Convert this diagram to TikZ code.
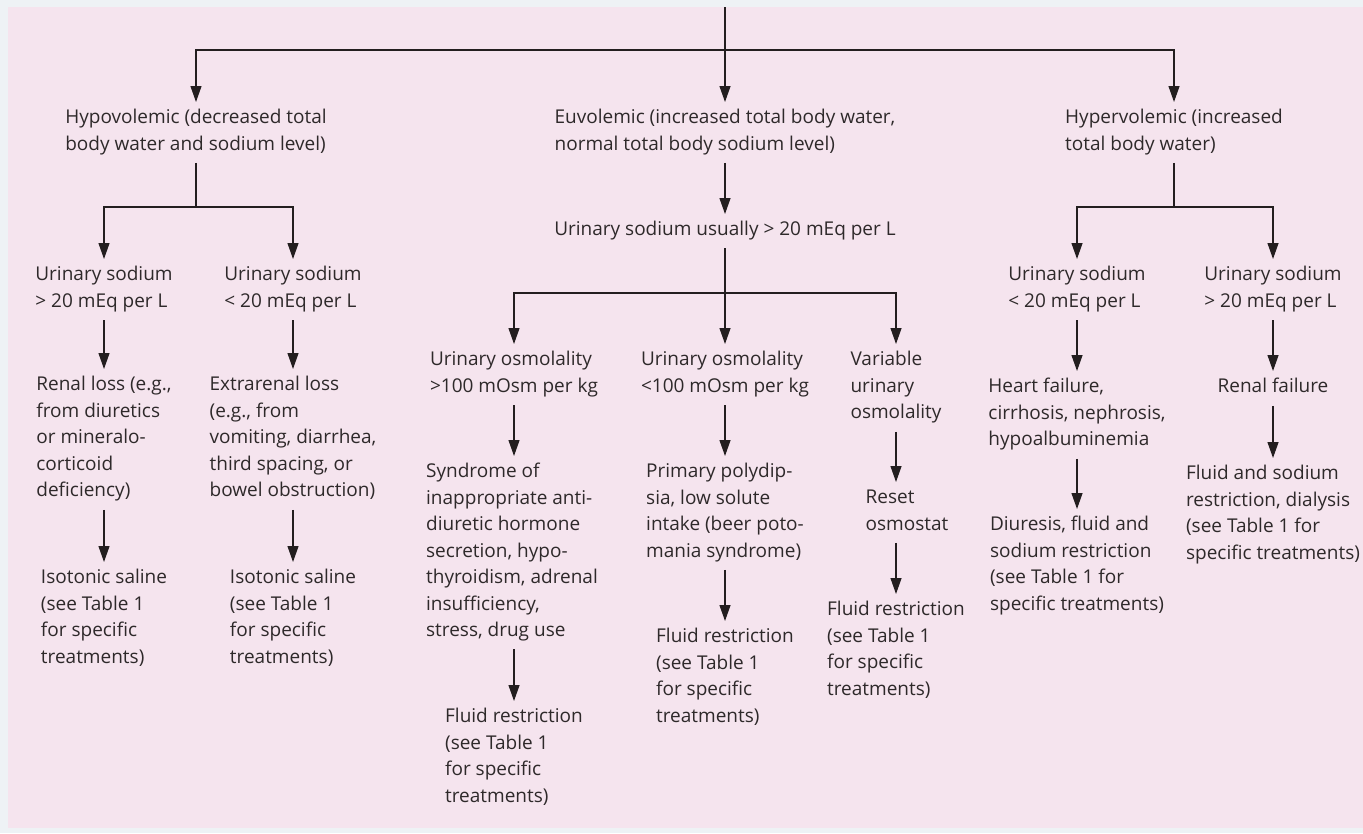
\documentclass[tikz,border=0pt]{standalone}
\usepackage{fontspec}
\setmainfont{Open Sans}
\usetikzlibrary{arrows.meta}
\definecolor{bgpink}{HTML}{F5E4EE}
\definecolor{marginc}{HTML}{EEF2F5}
\definecolor{ink}{HTML}{231E1F}
\definecolor{txt}{HTML}{2E292A}
\begin{document}
\begin{tikzpicture}[x=1bp,y=-1bp,
  lbl/.style={anchor=north, inner xsep=0pt, inner ysep=3bp, align=left,
    font=\fontsize{19bp}{26.5bp}\selectfont, text=txt},
  arr/.style={draw=ink, line width=1.2bp, -{Triangle[length=16bp,width=11bp]}},
  ln/.style={draw=ink, line width=1.2bp}]
\fill[marginc] (0,0) rectangle (1363,833);
\fill[bgpink] (8,7) rectangle (1363,828);
\useasboundingbox (0,0) rectangle (1363,833);

% level 1
\node[lbl] (hypo) at (196,102) {\strut Hypovolemic (decreased total\\ body water and sodium level)\strut};
\node[lbl] (eu) at (725,102) {\strut Euvolemic (increased total body water,\\ normal total body sodium level)\strut};
\node[lbl] (hyper) at (1174,102) {\strut Hypervolemic (increased\\ total body water)\strut};

% level 2
\node[lbl] (us1) at (104,259) {\strut Urinary sodium\\ > 20 mEq per L\strut};
\node[lbl] (us2) at (293,259) {\strut Urinary sodium\\ < 20 mEq per L\strut};
\node[lbl] (usu) at (725,214) {\strut Urinary sodium usually > 20 mEq per L\strut};
\node[lbl] (us3) at (1077,259) {\strut Urinary sodium\\ < 20 mEq per L\strut};
\node[lbl] (us4) at (1273,259) {\strut Urinary sodium\\ > 20 mEq per L\strut};

% hypovolemic branch
\node[lbl] (renal) at (104,369) {\strut Renal loss (e.g.,\\ from diuretics\\ or mineralo-\\ corticoid\\ deficiency)\strut};
\node[lbl] (extra) at (293,369) {\strut Extrarenal loss\\ (e.g., from\\ vomiting, diarrhea,\\ third spacing, or\\ bowel obstruction)\strut};
\node[lbl] (iso1) at (104,562) {\strut Isotonic saline\\ (see Table 1\\ for specific\\ treatments)\strut};
\node[lbl] (iso2) at (293,562) {\strut Isotonic saline\\ (see Table 1\\ for specific\\ treatments)\strut};

% euvolemic branch
\node[lbl] (uo1) at (514,344) {\strut Urinary osmolality\\ >100 mOsm per kg\strut};
\node[lbl] (uo2) at (725,344) {\strut Urinary osmolality\\ <100 mOsm per kg\strut};
\node[lbl] (var) at (896,344) {\strut Variable\\ urinary\\ osmolality\strut};
\node[lbl] (siadh) at (512,456) {\strut Syndrome of\\ inappropriate anti-\\ diuretic hormone\\ secretion, hypo-\\ thyroidism, adrenal\\ insufficiency,\\ stress, drug use\strut};
\node[lbl] (poly) at (725,456) {\strut Primary polydip-\\ sia, low solute\\ intake (beer poto-\\ mania syndrome)\strut};
\node[lbl] (reset) at (907,482) {\strut Reset\\ osmostat\strut};
\node[lbl] (fr1) at (514,701) {\strut Fluid restriction\\ (see Table 1\\ for specific\\ treatments)\strut};
\node[lbl] (fr2) at (725,621) {\strut Fluid restriction\\ (see Table 1\\ for specific\\ treatments)\strut};
\node[lbl] (fr3) at (896,594) {\strut Fluid restriction\\ (see Table 1\\ for specific\\ treatments)\strut};

% hypervolemic branch
\node[lbl] (heart) at (1077,371) {\strut Heart failure,\\ cirrhosis, nephrosis,\\ hypoalbuminemia\strut};
\node[lbl] (renf) at (1273,371) {\strut Renal failure\strut};
\node[lbl] (diur) at (1077,509) {\strut Diuresis, fluid and\\ sodium restriction\\ (see Table 1 for\\ specific treatments)\strut};
\node[lbl] (fs) at (1273,458) {\strut Fluid and sodium\\ restriction, dialysis\\ (see Table 1 for\\ specific treatments)\strut};

% junctions
\coordinate (top) at (725,7);
\coordinate (j0) at (725,50);
\coordinate (j1) at (196,207);
\coordinate (j2) at (725,293);
\coordinate (j3) at (1174,207);

% connectors
\draw[ln] (top) -- (j0);
\draw[arr] (j0) -| (hypo.north);
\draw[arr] (j0) -- (eu.north);
\draw[arr] (j0) -| (hyper.north);

\draw[ln] ([yshift=-1.5bp]hypo.south) -- (j1);
\draw[arr] (j1) -| (us1.north);
\draw[arr] (j1) -| (us2.north);
\draw[arr] ([yshift=-2bp]us1.south) -- (renal.north);
\draw[arr] ([yshift=-2bp]us2.south) -- (extra.north);
\draw[arr] ([yshift=-2bp]renal.south) -- (iso1.north);
\draw[arr] ([yshift=-2bp]extra.south) -- (iso2.north);

\draw[arr] ([yshift=-1.5bp]eu.south) -- (usu.north);
\draw[ln] ([yshift=-1.5bp]usu.south) -- (j2);
\draw[arr] (j2) -| (uo1.north);
\draw[arr] (j2) -- (uo2.north);
\draw[arr] (j2) -| (var.north);
\draw[arr] ([yshift=-2bp]uo1.south) -- (uo1.south |- siadh.north);
\draw[arr] ([yshift=-2bp]uo2.south) -- (poly.north);
\draw[arr] ([yshift=-2bp]var.south) -- (var.south |- reset.north);
\draw[arr] ([yshift=-1.5bp]siadh.south -| fr1.north) -- (fr1.north);
\draw[arr] ([yshift=-1.5bp]poly.south) -- (fr2.north);
\draw[arr] ([yshift=-1.5bp]reset.south -| fr3.north) -- (fr3.north);

\draw[ln] ([yshift=-1.5bp]hyper.south) -- (j3);
\draw[arr] (j3) -| (us3.north);
\draw[arr] (j3) -| (us4.north);
\draw[arr] ([yshift=-2bp]us3.south) -- (heart.north);
\draw[arr] ([yshift=-2bp]us4.south) -- (renf.north);
\draw[arr] ([yshift=-2bp]heart.south) -- (diur.north);
\draw[arr] ([yshift=-2bp]renf.south) -- (fs.north);
\end{tikzpicture}
\end{document}
